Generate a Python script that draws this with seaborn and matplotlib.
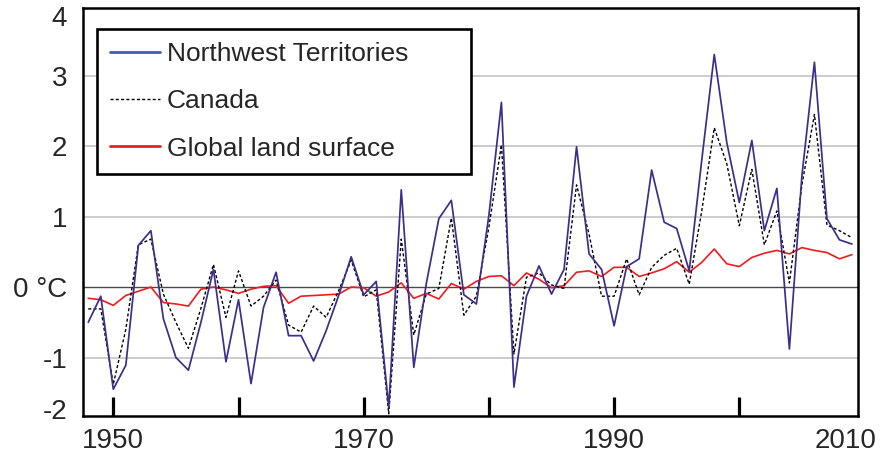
import numpy as np
import pandas as pd
import matplotlib
matplotlib.use("Agg")
import matplotlib.pyplot as plt
from matplotlib.lines import Line2D
import seaborn as sns

# Annual temperature anomalies (°C)
years = list(range(1948, 2010))

nwt = [-0.50, -0.13, -1.45, -1.11, 0.59, 0.80, -0.45, -1.00, -1.18, -0.50,
       0.25, -1.06, -0.18, -1.37, -0.29, 0.21, -0.69, -0.69, -1.05, -0.62,
       -0.12, 0.43, -0.11, 0.08, -1.71, 1.38, -1.14, 0.05, 0.97, 1.23,
       -0.11, -0.24, 1.02, 2.62, -1.42, -0.13, 0.30, -0.10, 0.25, 1.99,
       0.47, 0.25, -0.55, 0.29, 0.40, 1.66, 0.92, 0.83, 0.23, 1.80,
       3.30, 2.05, 1.20, 2.08, 0.80, 1.40, -0.88, 1.58, 3.19, 0.97,
       0.67, 0.61]

canada = [-0.31, -0.31, -1.38, -0.60, 0.60, 0.68, -0.10, -0.50, -0.87, -0.30,
          0.32, -0.43, 0.23, -0.27, -0.13, 0.10, -0.54, -0.64, -0.27, -0.43,
          -0.05, 0.38, -0.14, -0.04, -1.80, 0.68, -0.68, -0.10, -0.02, 0.98,
          -0.40, -0.13, 0.85, 2.02, -0.95, 0.14, 0.20, 0.03, -0.02, 1.45,
          0.75, -0.13, -0.13, 0.40, -0.11, 0.28, 0.45, 0.55, 0.04, 1.08,
          2.26, 1.75, 0.87, 1.67, 0.60, 1.08, 0.06, 1.45, 2.45, 0.88,
          0.80, 0.70]

global_land = [-0.16, -0.18, -0.26, -0.12, -0.06, 0.00, -0.22, -0.24, -0.27, -0.03,
               0.00, -0.04, -0.09, -0.03, 0.01, 0.02, -0.23, -0.13, -0.12, -0.11,
               -0.10, 0.00, -0.01, -0.13, -0.07, 0.06, -0.16, -0.09, -0.17, 0.05,
               -0.03, 0.08, 0.15, 0.16, 0.02, 0.20, 0.11, -0.01, 0.02, 0.21,
               0.23, 0.15, 0.28, 0.28, 0.15, 0.20, 0.26, 0.36, 0.21, 0.35,
               0.54, 0.33, 0.29, 0.42, 0.48, 0.52, 0.47, 0.56, 0.52, 0.49,
               0.40, 0.46]

series_labels = ["Northwest Territories", "Canada", "Global land surface"]

decade_marks = [1950, 1960, 1970, 1980, 1990, 2000]
decade_text = ["1950", "", "1970", "", "1990", ""]
end_label_pos = [2008.5]
end_label_text = ["2010"]

y_label_pos = [-1.73, -1, 0, 1, 2, 3, 3.84]
y_label_text = ["-2", "-1", "0 °C", "1", "2", "3", "4"]
grid_levels = [-1, 1, 2, 3]

df = pd.DataFrame({"year": years, "nwt": nwt, "canada": canada, "global": global_land})

sns.set_style("white")
plt.rcParams["font.family"] = ["Liberation Sans", "DejaVu Sans"]

fig = plt.figure(figsize=(8.94, 4.57), dpi=100)
ax = fig.add_axes([83 / 894, 1 - 416 / 457, 775 / 894, 408 / 457])

# horizontal reference lines
for g in grid_levels:
    ax.axhline(g, color="#c4c4c4", lw=1.2, zorder=0)
ax.axhline(0, color="#4a4a4a", lw=1.0, zorder=0)

nwt_color = "#3d2e8c"
red = "#ee1c1c"

sns.lineplot(data=df, x="year", y="global", color=red, lw=1.2, ax=ax, legend=False, zorder=2)
sns.lineplot(data=df, x="year", y="canada", color="black", lw=1.0,
             linestyle=(0, (2.2, 1.6)), ax=ax, legend=False, zorder=3)
sns.lineplot(data=df, x="year", y="nwt", color=nwt_color, lw=1.25, ax=ax, legend=False, zorder=4)

ax.set_xlim(1947.58, 2009.48)
ax.set_ylim(-1.83, 3.96)
ax.set_xlabel("")
ax.set_ylabel("")

# decade marks drawn inward from the bottom; labels every twenty years
ax.set_xticks(decade_marks)
ax.set_xticklabels(decade_text)
ax.set_xticks(end_label_pos, minor=True)
ax.set_xticklabels(end_label_text, minor=True)
ax.tick_params(axis="x", which="major", direction="in", length=13.5, width=2.3,
               color="black", bottom=True, pad=9, labelsize=20)
ax.tick_params(axis="x", which="minor", length=0, pad=9, labelsize=20, bottom=True)

ax.set_yticks(y_label_pos)
ax.set_yticklabels(y_label_text)
ax.tick_params(axis="y", length=0, pad=11.5, labelsize=20)

for sp in ax.spines.values():
    sp.set_visible(True)
    sp.set_color("black")
    sp.set_linewidth(1.8)

handles = [
    Line2D([], [], color="#3a64a4", lw=2.0),
    Line2D([], [], color="black", lw=1.0, linestyle=(0, (2.2, 1.6))),
    Line2D([], [], color=red, lw=2.0),
]
# legend box spans x 97-471 px, y 29-175 px of the figure
bx0 = (97 - 83) / 775
bx1 = (471 - 83) / 775
by1 = (416 - 29) / 408
by0 = (416 - 175) / 408
leg = ax.legend(handles, series_labels, loc="upper left",
                bbox_to_anchor=(bx0, by0, bx1 - bx0, by1 - by0), mode="expand",
                borderaxespad=0, fontsize=19, handlelength=1.9, handletextpad=0.25,
                borderpad=0.5, labelspacing=0.88, frameon=True, fancybox=False)
frame = leg.get_frame()
frame.set_edgecolor("black")
frame.set_linewidth(1.9)
frame.set_facecolor("white")
frame.set_alpha(1)

fig.savefig("out.png", dpi=100)
